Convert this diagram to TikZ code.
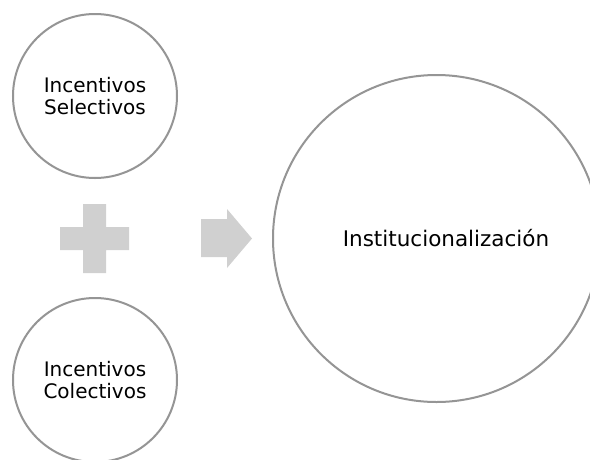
\documentclass[tikz,border=0pt]{standalone}
\usepackage{fontspec}
\setmainfont{DejaVu Sans}
\definecolor{ringgray}{HTML}{959595}
\definecolor{shapegray}{HTML}{D0D0D0}
\tikzset{
  ring/.style={circle, draw=ringgray, line width=2pt, fill=white, inner sep=0pt, align=center, text=black},
  symb/.style={fill=shapegray, draw=none}
}
\begin{document}
\begin{tikzpicture}[x=1pt, y=-1pt]
\useasboundingbox (0,0) rectangle (590,459);
\clip (0,0) rectangle (590,459);
\fill[white] (0,0) rectangle (590,459);
\node[ring, minimum size=164pt, font=\fontsize{20}{22}\selectfont] (sel) at (95,96) {Incentivos\\Selectivos};
\node[ring, minimum size=164pt, font=\fontsize{20}{22}\selectfont] (col) at (95,380) {Incentivos\\Colectivos};
\node[ring, minimum size=327pt, font=\fontsize{21.5}{25}\selectfont] (inst) at (436.5,238.5) {\hspace*{19pt}Institucionalización};
\fill[symb] (83,204) -- (106,204) -- (106,227) -- (129,227) -- (129,250) -- (106,250) -- (106,273) -- (83,273) -- (83,250) -- (60,250) -- (60,227) -- (83,227) -- cycle;
\fill[symb] (201,219) -- (227,219) -- (227,209) -- (252,238.5) -- (227,268) -- (227,257) -- (201,257) -- cycle;
\end{tikzpicture}
\end{document}
